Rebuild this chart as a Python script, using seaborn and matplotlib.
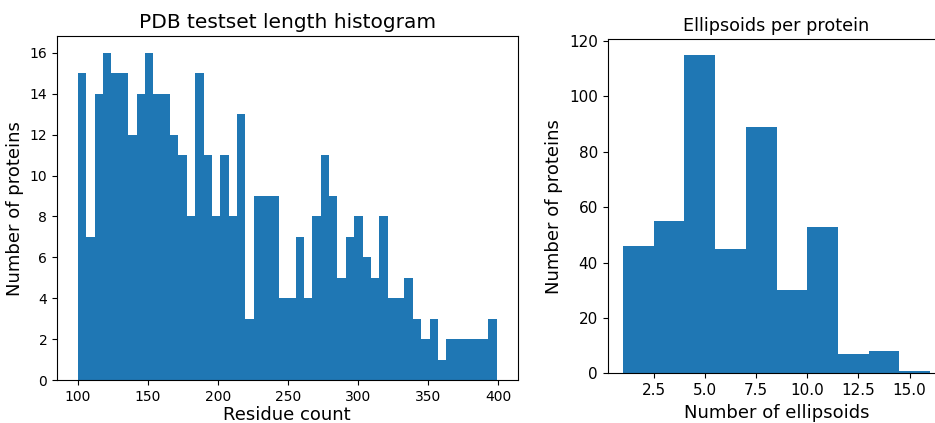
import numpy as np
import pandas as pd
import matplotlib
matplotlib.use("Agg")
import matplotlib.pyplot as plt
import seaborn as sns

# ---- data ----
length_min, length_max, length_nbins = 100, 399, 50
length_counts = [15, 7, 14, 16, 15, 15, 12, 14, 16, 14,
                 14, 12, 11, 8, 15, 11, 8, 11, 8, 13,
                 3, 9, 9, 9, 4, 4, 7, 4, 8, 11,
                 9, 5, 7, 8, 6, 5, 8, 4, 4, 5,
                 3, 2, 3, 1, 2, 2, 2, 2, 2, 3]

ell_min, ell_max, ell_nbins = 1, 16, 10
ellipsoid_counts = [46, 55, 115, 45, 89, 30, 53, 7, 8, 1]

left_xticks = [100, 150, 200, 250, 300, 350, 400]
left_yticks = [0, 2, 4, 6, 8, 10, 12, 14, 16]
right_xticks = [2.5, 5.0, 7.5, 10.0, 12.5, 15.0]
right_yticks = [0, 20, 40, 60, 80, 100, 120]

COLOR = "#1f77b4"

W, H = 935, 423
fig = plt.figure(figsize=(W / 100, H / 100), dpi=100)

def px_axes(x0, y0, x1, y1):
    return fig.add_axes([x0 / W, 1 - y1 / H, (x1 - x0) / W, (y1 - y0) / H])

ax1 = px_axes(57, 36.5, 517.5, 380)
ax2 = px_axes(607.5, 39, 945.5, 373.3)

# left histogram
edges1 = np.linspace(length_min, length_max, length_nbins + 1)
df1 = pd.DataFrame({"x": (edges1[:-1] + edges1[1:]) / 2,
                    "w": np.asarray(length_counts, dtype=float)})
sns.histplot(data=df1, x="x", weights="w", bins=edges1.tolist(), ax=ax1,
             color=COLOR, alpha=1, linewidth=0)
ax1.set_xlim(length_min - 0.05 * (length_max - length_min),
             length_max + 0.05 * (length_max - length_min))
ax1.set_ylim(0, max(length_counts) * 1.05)
ax1.set_xticks(left_xticks)
ax1.set_yticks(left_yticks)
ax1.tick_params(labelsize=10)
ax1.set_title("PDB testset length histogram", fontsize=14.5)
ax1.set_xlabel("Residue count", fontsize=13, labelpad=1.5)
ax1.set_ylabel("Number of proteins", fontsize=13)

# right histogram
edges2 = np.linspace(ell_min, ell_max, ell_nbins + 1)
df2 = pd.DataFrame({"x": (edges2[:-1] + edges2[1:]) / 2,
                    "w": np.asarray(ellipsoid_counts, dtype=float)})
sns.histplot(data=df2, x="x", weights="w", bins=edges2.tolist(), ax=ax2,
             color=COLOR, alpha=1, linewidth=0)
ax2.set_xlim(ell_min - 0.05 * (ell_max - ell_min),
             ell_max + 0.05 * (ell_max - ell_min))
ax2.set_ylim(0, max(ellipsoid_counts) * 1.05)
ax2.set_xticks(right_xticks)
ax2.set_yticks(right_yticks)
ax2.tick_params(labelsize=11)
ax2.set_title("Ellipsoids per protein", fontsize=12.7)
ax2.set_xlabel("Number of ellipsoids", fontsize=13)
ax2.set_ylabel("Number of proteins", fontsize=13)

fig.savefig("out.png", dpi=100)
